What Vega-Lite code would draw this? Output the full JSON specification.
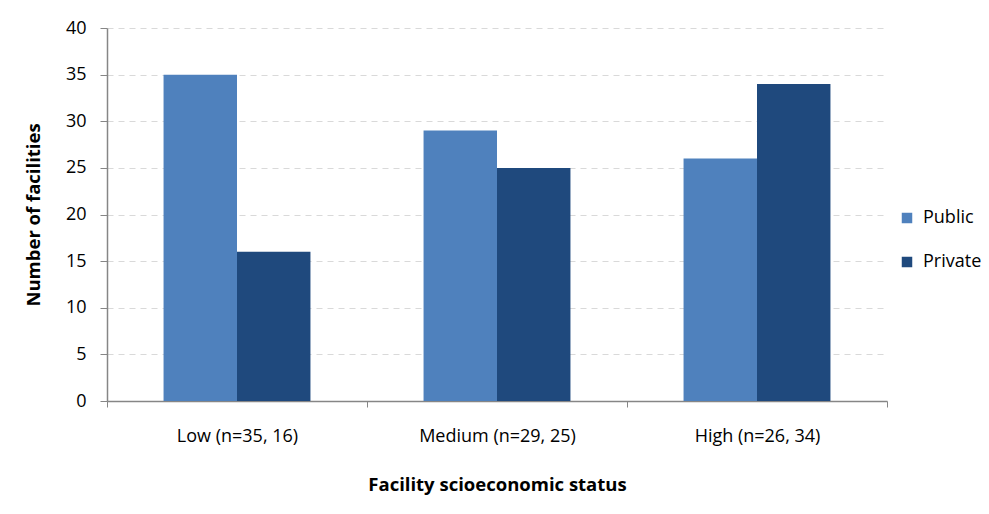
{
  "$schema": "https://vega.github.io/schema/vega-lite/v6.json",
  "width": 780,
  "height": 373,
  "autosize": {"type": "none"},
  "padding": {"left": 107, "top": 28, "right": 102, "bottom": 113},
  "background": "white",
  "config": {
    "font": "Open Sans",
    "view": {"stroke": null},
    "axis": {
      "domainColor": "#868686",
      "tickColor": "#868686",
      "labelColor": "#000000",
      "titleColor": "#000000",
      "labelFont": "Open Sans",
      "titleFont": "Open Sans"
    }
  },
  "data": {
    "values": [
      {"status": "Low (n=35, 16)", "sector": "Public", "count": 35},
      {"status": "Low (n=35, 16)", "sector": "Private", "count": 16},
      {"status": "Medium (n=29, 25)", "sector": "Public", "count": 29},
      {"status": "Medium (n=29, 25)", "sector": "Private", "count": 25},
      {"status": "High (n=26, 34)", "sector": "Public", "count": 26},
      {"status": "High (n=26, 34)", "sector": "Private", "count": 34}
    ]
  },
  "mark": {"type": "bar"},
  "encoding": {
    "x": {
      "field": "status",
      "type": "nominal",
      "sort": ["Low (n=35, 16)", "Medium (n=29, 25)", "High (n=26, 34)"],
      "scale": {"paddingInner": 0, "paddingOuter": 0},
      "axis": {
        "title": "Facility scioeconomic status",
        "titleFontSize": 18.5,
        "titleFontWeight": "bold",
        "titlePadding": 30,
        "labelAngle": 0,
        "labelFontSize": 18,
        "labelPadding": 20,
        "tickBand": "extent",
        "tickSize": 6,
        "domainWidth": 1.5,
        "grid": false
      }
    },
    "xOffset": {
      "field": "sector",
      "type": "nominal",
      "sort": ["Public", "Private"],
      "scale": {"paddingInner": 0, "paddingOuter": 0.77}
    },
    "y": {
      "field": "count",
      "type": "quantitative",
      "scale": {"domain": [0, 40], "nice": false},
      "axis": {
        "title": "Number of facilities",
        "titleFontSize": 18.5,
        "titleFontWeight": "bold",
        "titlePadding": 22,
        "values": [0, 5, 10, 15, 20, 25, 30, 35, 40],
        "labelFontSize": 18,
        "labelPadding": 14,
        "tickSize": 7,
        "domainWidth": 1.5,
        "gridColor": "#d9d9d9",
        "gridDash": [6, 5],
        "gridWidth": 1
      }
    },
    "color": {
      "field": "sector",
      "type": "nominal",
      "sort": ["Public", "Private"],
      "scale": {"domain": ["Public", "Private"], "range": ["#4F81BD", "#1F497D"]},
      "legend": {
        "title": null,
        "orient": "none",
        "legendX": 791,
        "legendY": 181,
        "symbolType": "square",
        "symbolSize": 110,
        "labelFontSize": 18,
        "labelOffset": 7,
        "rowPadding": 26
      }
    }
  }
}
